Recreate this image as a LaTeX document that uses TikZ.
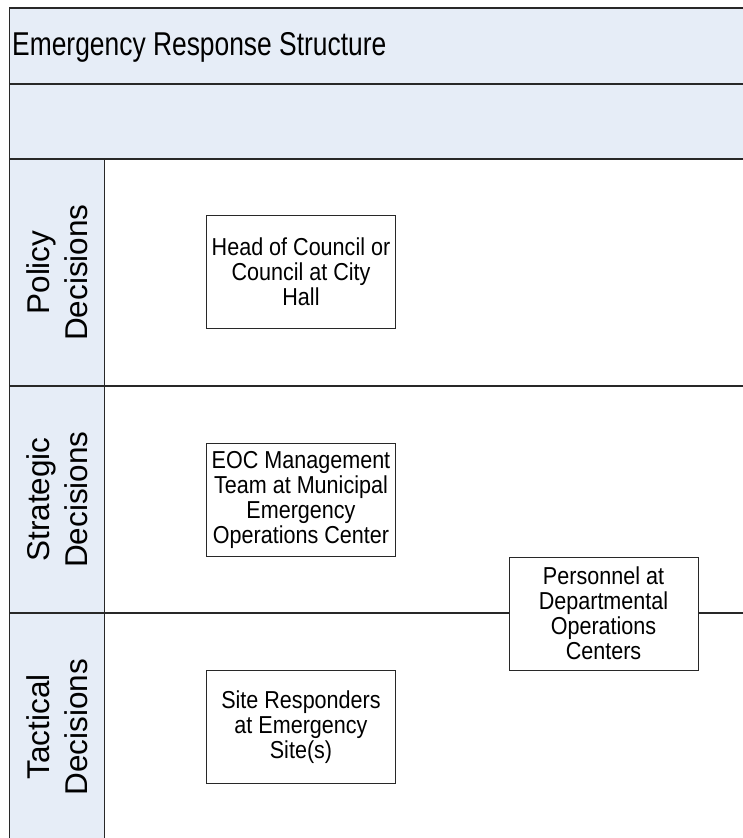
\documentclass[tikz,border=0pt]{standalone}
\usepackage{fontspec}
\setmainfont{Liberation Sans}
\newfontfamily\titlefont[FakeStretch=0.8]{Liberation Sans}
\newfontfamily\boxfont[FakeStretch=0.88]{Liberation Sans}
\definecolor{lanefill}{RGB}{230,237,247}
\definecolor{linegray}{RGB}{40,40,40}
\tikzset{
  bandline/.style={draw=linegray, line width=2pt},
  thinline/.style={draw=linegray, line width=1.2pt},
  rolebox/.style={draw=linegray, line width=1pt, fill=white, minimum width=189pt, minimum height=113pt, inner sep=0pt, align=center, font=\boxfont\fontsize{24.5}{25}\selectfont},
  lanelabel/.style={rotate=90, align=center, inner sep=0pt, font=\fontsize{31.5}{38}\selectfont},
  titletext/.style={anchor=base west, inner sep=0pt, font=\titlefont\fontsize{33}{38}\selectfont}
}
\begin{document}
\begin{tikzpicture}[x=1pt,y=-1pt]
\useasboundingbox (0,0) rectangle (743,838);
% header bands
\fill[lanefill] (9.5,8) rectangle (760,159);
\fill[lanefill] (9.5,159) rectangle (104.5,850);
\draw[bandline] (9.5,8) -- (760,8);
\draw[bandline] (9.5,83.5) -- (760,83.5);
\draw[bandline] (9.5,159) -- (760,159);
\draw[bandline] (9.5,386) -- (760,386);
\draw[bandline] (9.5,613) -- (760,613);
\draw[thinline] (9.5,7) -- (9.5,850);
\draw[thinline] (104.5,159) -- (104.5,850);
% title
\node[titletext] (title) at (12,55) {Emergency Response Structure};
% lane labels
\node[lanelabel] (policy) at (57,272.5) {Policy\\Decisions};
\node[lanelabel] (strategic) at (57,499.5) {Strategic\\Decisions};
\node[lanelabel] (tactical) at (57,727) {Tactical\\Decisions};
% boxes
\node[rolebox] (head) at (301,272) {Head of Council or\\Council at City\\Hall};
\node[rolebox] (eoc) at (301,500) {EOC Management\\Team at Municipal\\Emergency\\Operations Center};
\node[rolebox] (site) at (301,727) {Site Responders\\at Emergency\\Site(s)};
\node[rolebox] (dept) at (603.5,613.5) {Personnel at\\Departmental\\Operations\\Centers};
\end{tikzpicture}
\end{document}
